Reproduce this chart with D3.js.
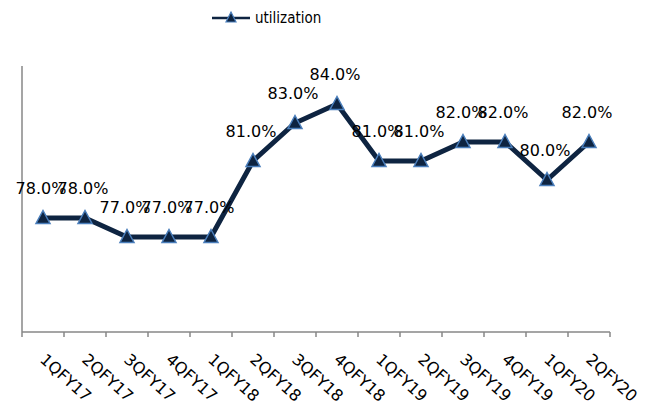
<!DOCTYPE html>
<html><head><meta charset="utf-8">
<script src="https://cdn.jsdelivr.net/npm/d3@7"></script>
<style>body{margin:0;background:#fff}svg{display:block}</style>
</head><body>
<svg id="c" width="655" height="411"></svg>
<script>
const categories = ["1QFY17","2QFY17","3QFY17","4QFY17","1QFY18","2QFY18","3QFY18","4QFY18","1QFY19","2QFY19","3QFY19","4QFY19","1QFY20","2QFY20"];
const utilization = [78,78,77,77,77,81,83,84,81,81,82,82,80,82];
const seriesName = "utilization";
const yDomain = [72, 86];

const svg = d3.select("#c");
const x = d3.scaleBand().domain(categories).range([22, 610]);
const y = d3.scaleLinear().domain(yDomain).range([332, 66]);
const navy = "#0e2441", edge = "#4a7ebb", axisCol = "#878787";

// axes
svg.append("line").attr("x1", 22).attr("x2", 22).attr("y1", y(yDomain[1])).attr("y2", y(yDomain[0]))
  .attr("stroke", axisCol).attr("stroke-width", 1.5);
svg.append("line").attr("x1", 22).attr("x2", 610).attr("y1", y(yDomain[0])).attr("y2", y(yDomain[0]))
  .attr("stroke", axisCol).attr("stroke-width", 1.5);
const tickPos = categories.map(c => x(c)).concat([x.range()[1]]);
svg.selectAll(".tk").data(tickPos).enter().append("line")
  .attr("x1", d => d).attr("x2", d => d).attr("y1", y(yDomain[0])).attr("y2", y(yDomain[0]) + 5)
  .attr("stroke", axisCol).attr("stroke-width", 1.5);

// x labels
svg.selectAll(".xl").data(categories).enter().append("text")
  .attr("transform", d => `translate(${x(d) + x.bandwidth()/2 - 4},${361}) rotate(42)`)
  .attr("font-family", "DejaVu Sans").attr("font-size", 16).attr("fill", "#000")
  .text(d => d);

// line
const line = d3.line().x((d, i) => x(categories[i]) + x.bandwidth()/2).y(d => y(d));
svg.append("path").datum(utilization).attr("d", line).attr("fill", "none")
  .attr("stroke", navy).attr("stroke-width", 5).attr("stroke-linejoin", "miter");

// markers
const tri = "M0,-7.5 L7,5.5 L-7,5.5 Z";
svg.selectAll(".mk").data(utilization).enter().append("path")
  .attr("d", tri)
  .attr("transform", (d, i) => `translate(${x(categories[i]) + x.bandwidth()/2},${y(d)})`)
  .attr("fill", navy).attr("stroke", edge).attr("stroke-width", 1.5);

// data labels
svg.selectAll(".dl").data(utilization).enter().append("text")
  .attr("x", (d, i) => x(categories[i]) + x.bandwidth()/2 - 2)
  .attr("y", d => y(d) - 24)
  .attr("text-anchor", "middle").attr("font-family", "DejaVu Sans").attr("font-size", 16)
  .attr("fill", "#000").text(d => d3.format(".1f")(d) + "%");

// legend
const lg = svg.append("g").attr("transform", "translate(212,18)");
lg.append("line").attr("x1", 0).attr("x2", 38).attr("y1", 0).attr("y2", 0).attr("stroke", navy).attr("stroke-width", 2.5);
lg.append("path").attr("d", "M0,-6 L5,4 L-5,4 Z").attr("transform", "translate(19,0)").attr("fill", navy).attr("stroke", edge).attr("stroke-width", 1.2);
lg.append("text").attr("x", 43).attr("y", 5).attr("font-family", "DejaVu Sans Condensed").attr("font-size", 15).attr("fill", "#000").text(seriesName);
</script>
</body></html>
